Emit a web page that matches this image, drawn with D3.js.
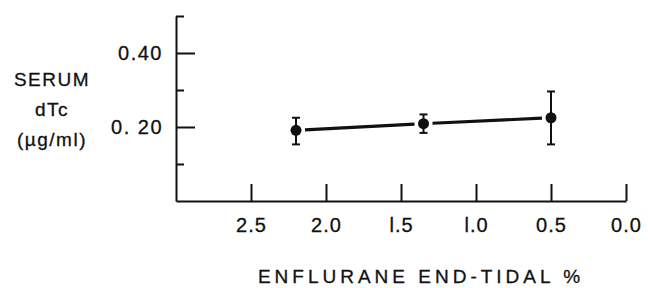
<!DOCTYPE html>
<html>
<head>
<meta charset="utf-8">
<script src="https://cdn.jsdelivr.net/npm/d3@7"></script>
<style>
  body { margin: 0; background: #fff; }
  svg { font-family: "Liberation Sans", Arial, sans-serif; }
</style>
</head>
<body>
<svg width="648" height="288"></svg>
<script>
// enflurane end-tidal % vs serum dTc
var enflurane = [2.2, 1.35, 0.5];
var serumDtc  = [0.191, 0.209, 0.225];
var errLow    = [0.153, 0.184, 0.153];
var errHigh   = [0.225, 0.234, 0.296];

var xTicks = [2.5, 2.0, 1.5, 1.0, 0.5, 0.0];
var xTickLabels = ["2.5", "2.0", "l.5", "l.0", "0.5", "0.0"];
var yMajor = [0.2, 0.4];
var yMajorLabels = ["0. 20", "0.40"];
var yMinor = [0.1, 0.3, 0.5];
var yLabelLines = ["SERUM", "dTc", "(\u00b5g/ml)"];
var xTitle = "ENFLURANE END-TIDAL %";

var svg = d3.select("svg");
var ink = "#111";

var x = d3.scaleLinear().domain([3.0, 0.0]).range([176, 626]);
var y = d3.scaleLinear().domain([0, 0.5]).range([201, 16]);

// x axis, ticks pointing up
var xAxis = d3.axisBottom(x)
  .tickValues(xTicks)
  .tickSize(-17)
  .tickSizeOuter(0)
  .tickPadding(17)
  .tickFormat(function(d, i){ return xTickLabels[i]; });

var gx = svg.append("g")
  .attr("transform", "translate(0," + y(0) + ")")
  .call(xAxis);
gx.selectAll("text")
  .style("font-size", "20px")
  .style("letter-spacing", "1px")
  .attr("fill", ink)
  .attr("stroke", ink)
  .attr("stroke-width", 0.3);

// y axis major
var yAxis = d3.axisLeft(y)
  .tickValues(yMajor)
  .tickSize(-19)
  .tickSizeOuter(0)
  .tickPadding(13)
  .tickFormat(function(d, i){ return yMajorLabels[i]; });

var gy = svg.append("g")
  .attr("transform", "translate(" + x(3.0) + ",0)")
  .call(yAxis);
gy.selectAll("text")
  .style("font-size", "20px")
  .style("letter-spacing", "1.5px")
  .attr("fill", ink)
  .attr("stroke", ink)
  .attr("stroke-width", 0.3);

// y axis minor
var gyMinor = svg.append("g")
  .attr("transform", "translate(" + x(3.0) + ",0)")
  .call(d3.axisLeft(y).tickValues(yMinor).tickSize(-8).tickSizeOuter(0).tickFormat(""));
gyMinor.select(".domain").remove();

svg.selectAll(".domain, .tick line")
  .attr("stroke", ink)
  .attr("stroke-width", 2);

// connecting segments with small gaps at the markers
var pts = enflurane.map(function(d, i){ return [x(d), y(serumDtc[i])]; });
var gap = 9;
for (var i = 0; i < pts.length - 1; i++) {
  var a = pts[i], b = pts[i+1];
  var dx = b[0] - a[0], dy = b[1] - a[1];
  var len = Math.sqrt(dx*dx + dy*dy);
  svg.append("line")
    .attr("x1", a[0] + dx/len*gap)
    .attr("y1", a[1] + dy/len*gap)
    .attr("x2", b[0] - dx/len*gap)
    .attr("y2", b[1] - dy/len*gap)
    .attr("stroke", ink)
    .attr("stroke-width", 3.2);
}

// error bars
var eb = svg.append("g").attr("stroke", ink).attr("stroke-width", 2);
enflurane.forEach(function(d, i){
  var cx = x(d);
  eb.append("line").attr("x1", cx).attr("x2", cx)
    .attr("y1", y(errLow[i])).attr("y2", y(errHigh[i]));
  eb.append("line").attr("x1", cx - 4).attr("x2", cx + 4)
    .attr("y1", y(errLow[i])).attr("y2", y(errLow[i]));
  eb.append("line").attr("x1", cx - 4).attr("x2", cx + 4)
    .attr("y1", y(errHigh[i])).attr("y2", y(errHigh[i]));
});

// markers
svg.selectAll("circle.pt")
  .data(enflurane)
  .enter()
  .append("circle")
  .attr("class", "pt")
  .attr("cx", function(d){ return x(d); })
  .attr("cy", function(d, i){ return y(serumDtc[i]); })
  .attr("r", 5.5)
  .attr("fill", ink);

// y label (three lines)
svg.append("g").selectAll("text")
  .data(yLabelLines)
  .enter()
  .append("text")
  .attr("x", 52)
  .attr("y", function(d, i){ return 86 + i*30; })
  .attr("text-anchor", "middle")
  .style("font-size", "19px")
  .style("letter-spacing", "1.5px")
  .attr("fill", ink)
  .attr("stroke", ink)
  .attr("stroke-width", 0.3)
  .text(function(d){ return d; });

// x title
svg.append("text")
  .attr("x", 421)
  .attr("y", 283)
  .attr("text-anchor", "middle")
  .style("font-size", "19px")
  .style("letter-spacing", "4px")
  .attr("fill", ink)
  .attr("stroke", ink)
  .attr("stroke-width", 0.3)
  .text(xTitle);
</script>
</body>
</html>
